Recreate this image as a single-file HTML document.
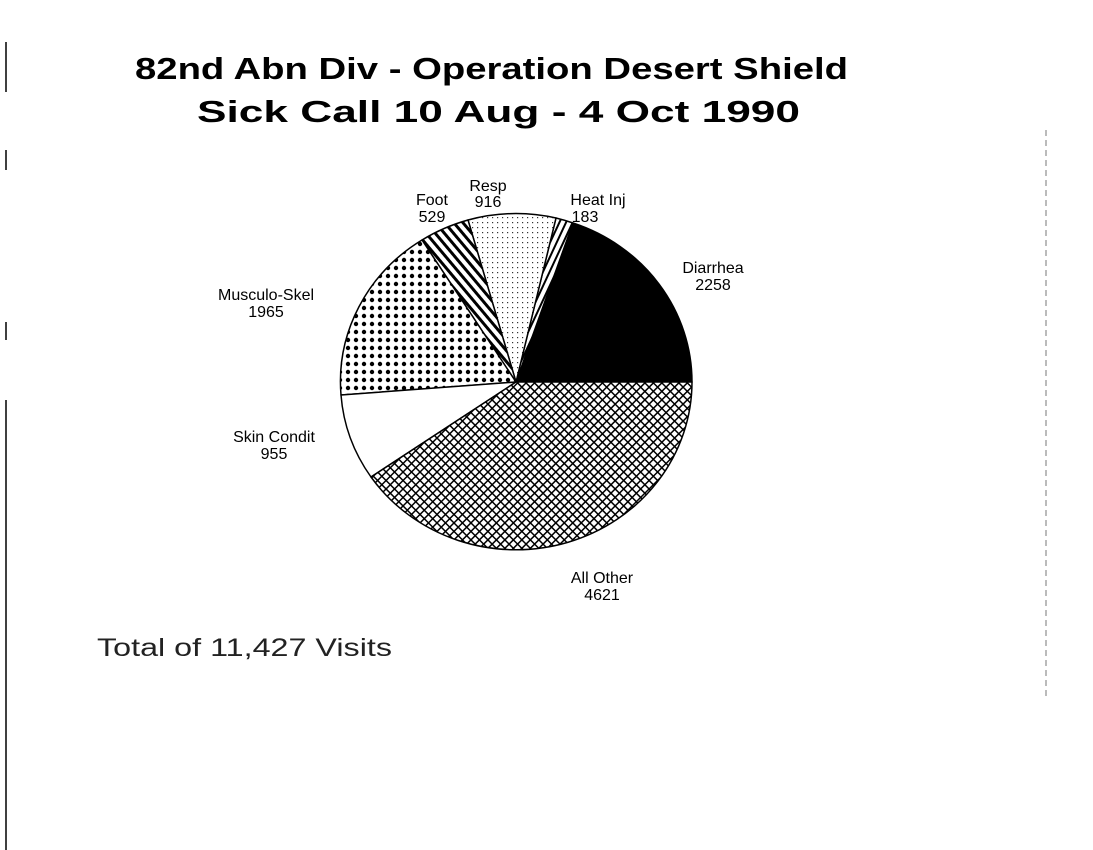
<!DOCTYPE html>
<html><head><style>
html,body{margin:0;padding:0;background:#fff;}
svg{display:block;}
</style></head><body>
<svg width="1093" height="850" viewBox="0 0 1093 850" xmlns="http://www.w3.org/2000/svg">
<defs>
<pattern id="heat" width="6" height="6" patternUnits="userSpaceOnUse" patternTransform="rotate(25)">
<rect width="6" height="6" fill="#fff"/><rect width="2" height="6" fill="#000"/></pattern>
<pattern id="foot" width="7" height="7" patternUnits="userSpaceOnUse" patternTransform="rotate(-40)">
<rect width="7" height="7" fill="#fff"/><rect width="3" height="7" fill="#000"/></pattern>
<pattern id="resp" width="5" height="5" patternUnits="userSpaceOnUse">
<rect width="5" height="5" fill="#fff"/><rect x="2" y="2" width="1.2" height="1.2" fill="#333"/></pattern>
<pattern id="musc" width="8" height="8" patternUnits="userSpaceOnUse">
<rect width="8" height="8" fill="#fff"/><circle cx="4" cy="4" r="2.2" fill="#000"/></pattern>
<pattern id="other" width="6" height="6" patternUnits="userSpaceOnUse" patternTransform="rotate(45)">
<rect width="6" height="6" fill="#fff"/><rect width="1.5" height="6" fill="#000"/><rect width="6" height="1.5" fill="#000"/></pattern>
</defs>
<g stroke="#000" stroke-width="1.5" stroke-linejoin="round">
<path d="M516,382 L692,382 A176,168 0 0 0 573,223 Z" fill="#000"/>
<path d="M516,382 L573,223 A176,168 0 0 0 556,218 Z" fill="url(#heat)"/>
<path d="M516,382 L556,218 A176,168 0 0 0 468,220 Z" fill="url(#resp)"/>
<path d="M516,382 L468,220 A176,168 0 0 0 422,240 Z" fill="url(#foot)"/>
<path d="M516,382 L422,240 A176,168 0 0 0 341,395 Z" fill="url(#musc)"/>
<path d="M516,382 L341,395 A176,168 0 0 0 371,477 Z" fill="#fff"/>
<path d="M516,382 L371,477 A176,168 0 0 0 692,382 Z" fill="url(#other)"/>
</g>
<g font-family="Liberation Sans, sans-serif" font-weight="bold" font-size="31" fill="#000">
<text x="135" y="79" textLength="713" lengthAdjust="spacingAndGlyphs">82nd Abn Div - Operation Desert Shield</text>
<text x="197" y="122" textLength="603" lengthAdjust="spacingAndGlyphs">Sick Call 10 Aug - 4 Oct 1990</text>
</g>
<g font-family="Liberation Sans, sans-serif" font-size="16" text-anchor="middle" fill="#000">
<text x="488" y="191">Resp</text><text x="488" y="207">916</text>
<text x="432" y="205">Foot</text><text x="432" y="222">529</text>
<text x="598" y="205">Heat Inj</text><text x="585" y="222">183</text>
<text x="713" y="273">Diarrhea</text><text x="713" y="290">2258</text>
<text x="266" y="300">Musculo-Skel</text><text x="266" y="317">1965</text>
<text x="274" y="442">Skin Condit</text><text x="274" y="459">955</text>
<text x="602" y="583">All Other</text><text x="602" y="600">4621</text>
</g>
<text x="97" y="656" font-family="Liberation Sans, sans-serif" font-size="25" fill="#222" textLength="295" lengthAdjust="spacingAndGlyphs">Total of 11,427 Visits</text>
<g stroke="#000" stroke-width="1.5">
<line x1="6" y1="42" x2="6" y2="92"/>
<line x1="6" y1="150" x2="6" y2="170"/>
<line x1="6" y1="322" x2="6" y2="340"/>
<line x1="6" y1="400" x2="6" y2="850"/>
</g>
<line x1="1046" y1="130" x2="1046" y2="700" stroke="#777" stroke-width="1" stroke-dasharray="6,4"/>
</svg>
</body></html>
